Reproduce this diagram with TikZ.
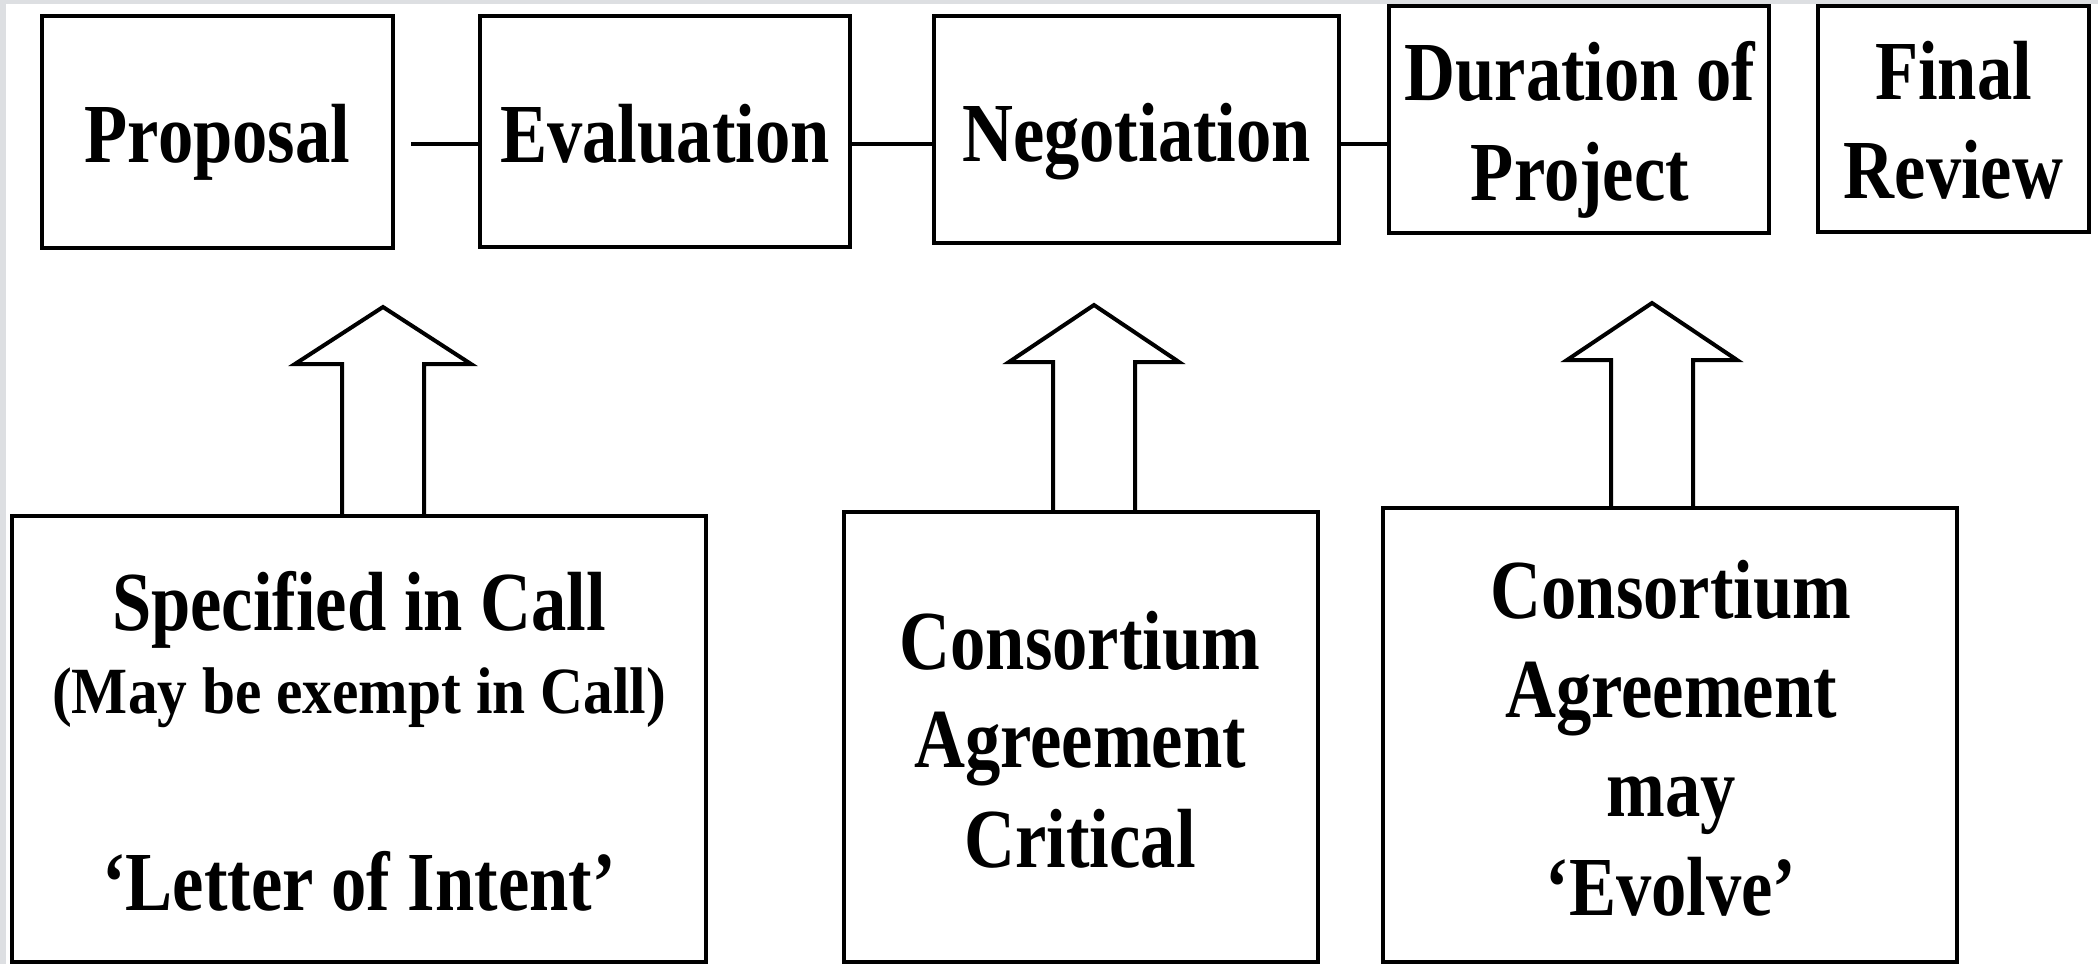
\documentclass[tikz,border=0pt]{standalone}
\usepackage{fontspec}
\newfontfamily\cond[FakeStretch=0.84]{Liberation Serif}
\newfontfamily\semicond[FakeStretch=0.9]{Liberation Serif}
\usetikzlibrary{calc,fit}
\definecolor{edgegray}{RGB}{221,223,226}
\begin{document}
\begin{tikzpicture}[x=0.5pt,y=-0.5pt,
  box/.style={draw=black, line width=2pt, inner sep=0pt},
  txt/.style={inner sep=0pt, anchor=base, font=\cond\bfseries\fontsize{42pt}{48pt}\selectfont},
  smalltxt/.style={inner sep=0pt, anchor=base, font=\semicond\bfseries\fontsize{33pt}{38pt}\selectfont},
  link/.style={line width=1.75pt},
  hollow/.style={line width=2pt, line join=miter}
]
% page and its grey margin
\useasboundingbox (0,0) rectangle (2098,964);
\fill[edgegray] (0,0) rectangle (2098,964);
\fill[white] (6,4) rectangle (2098,964);

% stages of the project
\node[box, fit={(42,16) (393,248)}] (prop) {};
\node[box, fit={(480,16) (850,247)}] (eval) {};
\node[box, fit={(934,16) (1339,243)}] (nego) {};
\node[box, fit={(1389,6) (1769,233)}] (dur) {};
\node[box, fit={(1818,6) (2089,232)}] (fin) {};

\node[txt] (prop-t) at (217.5,162) {Proposal};
\node[txt] (eval-t) at (665,162) {Evaluation};
\node[txt] (nego-t) at (1136.5,161) {Negotiation};
\node[txt] (dur-t1) at (1580,100) {Duration of};
\node[txt] (dur-t2) at (1580,200) {Project};
\node[txt] (fin-t1) at (1953.5,99) {Final};
\node[txt] (fin-t2) at (1953.5,198) {Review};

% links between stages
\coordinate (lvl) at (0,144);
\draw[link] ($(prop.east |- lvl)+(16,0)$) -- (eval.west |- lvl);
\draw[link] (eval.east |- lvl) -- (nego.west |- lvl);
\draw[link] (nego.east |- lvl) -- (dur.west |- lvl);

% agreements feeding the stages
\node[box, fit={(12,516) (706,962)}] (spec) {};
\node[box, fit={(844,512) (1318,962)}] (crit) {};
\node[box, fit={(1383,508) (1957,962)}] (evol) {};

\node[txt] (spec-t1) at (359,630) {Specified in Call};
\node[smalltxt] (spec-t2) at (359,713) {(May be exempt in Call)};
\node[txt] (spec-t3) at (359,910) {‘Letter of Intent’};

\node[txt] (crit-t1) at (1080,669) {Consortium};
\node[txt] (crit-t2) at (1080,767) {Agreement};
\node[txt] (crit-t3) at (1080,867) {Critical};

\node[txt] (evol-t1) at (1671,618) {Consortium};
\node[txt] (evol-t2) at (1671,717) {Agreement};
\node[txt] (evol-t3) at (1671,816) {may};
\node[txt] (evol-t4) at (1671,915) {‘Evolve’};

% hollow block arrows
\coordinate (t1) at (383,307);
\coordinate (t2) at (1094,305);
\coordinate (t3) at (1652,303);
\draw[hollow] ($(spec.north -| t1)+(-41,0)$) -- ($(t1)+(-41,57)$) -- ($(t1)+(-88,57)$) -- (t1)
  -- ($(t1)+(88,57)$) -- ($(t1)+(41,57)$) -- ($(spec.north -| t1)+(41,0)$);
\draw[hollow] ($(crit.north -| t2)+(-41,0)$) -- ($(t2)+(-41,57)$) -- ($(t2)+(-85,57)$) -- (t2)
  -- ($(t2)+(85,57)$) -- ($(t2)+(41,57)$) -- ($(crit.north -| t2)+(41,0)$);
\draw[hollow] ($(evol.north -| t3)+(-41,0)$) -- ($(t3)+(-41,57)$) -- ($(t3)+(-85,57)$) -- (t3)
  -- ($(t3)+(85,57)$) -- ($(t3)+(41,57)$) -- ($(evol.north -| t3)+(41,0)$);
\end{tikzpicture}
\end{document}
